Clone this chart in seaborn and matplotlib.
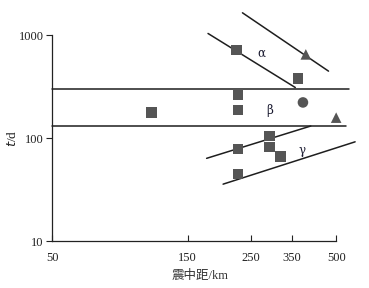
import numpy as np
import pandas as pd
import matplotlib
matplotlib.use("Agg")
import matplotlib.pyplot as plt
import matplotlib.ticker as mticker
import seaborn as sns

# --- data ---
sq_x = [223, 226, 226, 226, 226, 112, 367, 291, 291, 318]
sq_y = [714, 266, 187, 78, 45, 178, 380, 105, 82, 66]
tri_x = [391, 500]
tri_y = [650, 158]
circ_x = [382]
circ_y = [222]

# band limits (horizontal lines)
band_hi = 300
band_lo = 130
band_x = [50, 556]
band_x_lo = [50, 541]

# sloping lines: (x1, x2), (y1, y2)
alpha_lo = ([177, 359], [1038, 310])
alpha_hi = ([234, 470], [1648, 447])
gamma_hi = ([175, 407], [63.6, 131])
gamma_lo = ([200, 583], [35.7, 92])

labels = ["α", "β", "γ"]
label_x = [272, 291, 379]
label_y = [673, 187, 76]

x_ticks = [50, 150, 250, 350, 500]
y_ticks = [10, 100, 1000]

df = pd.DataFrame({
    "x": sq_x + tri_x + circ_x,
    "y": sq_y + tri_y + circ_y,
    "kind": ["square"] * len(sq_x) + ["triangle"] * len(tri_x) + ["circle"] * len(circ_x),
})

sns.set_style("ticks")
plt.rcParams["font.family"] = ["Liberation Serif", "Noto Sans CJK SC"]

fig = plt.figure(figsize=(3.69, 2.88), dpi=100)
ax = fig.add_axes([0.141, 0.163, 0.770, 0.715])

lc = "#1e1e1e"
lw = 1.1
ax.plot(band_x, [band_hi, band_hi], color=lc, lw=lw, clip_on=False)
ax.plot(band_x_lo, [band_lo, band_lo], color=lc, lw=lw, clip_on=False)
for xs, ys in [alpha_lo, alpha_hi, gamma_hi, gamma_lo]:
    ax.plot(xs, ys, color=lc, lw=lw, clip_on=False)

sns.scatterplot(data=df, x="x", y="y", style="kind",
                markers={"square": "s", "triangle": "^", "circle": "o"},
                color="#555555", s=58, linewidth=0, legend=False,
                clip_on=False, zorder=3, ax=ax)

for t, tx, ty in zip(labels, label_x, label_y):
    ax.text(tx, ty, t, fontsize=8.5, color="#1a1a30", ha="center", va="center",
            family=["DejaVu Serif"])

ax.set_xscale("log")
ax.set_yscale("log")
ax.set_xlim(50, 500)
ax.set_ylim(10, 1000)
ax.set_xticks(x_ticks)
ax.set_yticks(y_ticks)
ax.xaxis.set_major_formatter(mticker.FixedFormatter([str(v) for v in x_ticks]))
ax.yaxis.set_major_formatter(mticker.FixedFormatter([str(v) for v in y_ticks]))
ax.xaxis.set_minor_locator(mticker.NullLocator())
ax.yaxis.set_minor_locator(mticker.NullLocator())
ax.tick_params(axis="x", direction="in", length=4, width=0.8, labelsize=9, pad=8, colors="#222222")
ax.tick_params(axis="y", direction="out", length=4, width=0.8, labelsize=9, pad=2, colors="#222222")
for s in ["top", "right"]:
    ax.spines[s].set_visible(False)
for s in ["left", "bottom"]:
    ax.spines[s].set_color("#222222")
    ax.spines[s].set_linewidth(0.9)

ax.set_xlabel("震中距/km", fontsize=9, color="#333333")
ax.xaxis.set_label_coords(0.52, -0.14)
ax.set_ylabel("$t$/d", fontsize=9.5, color="#222222")
ax.yaxis.set_label_coords(-0.115, 0.5)

fig.savefig("out.png", dpi=100, facecolor="white")
